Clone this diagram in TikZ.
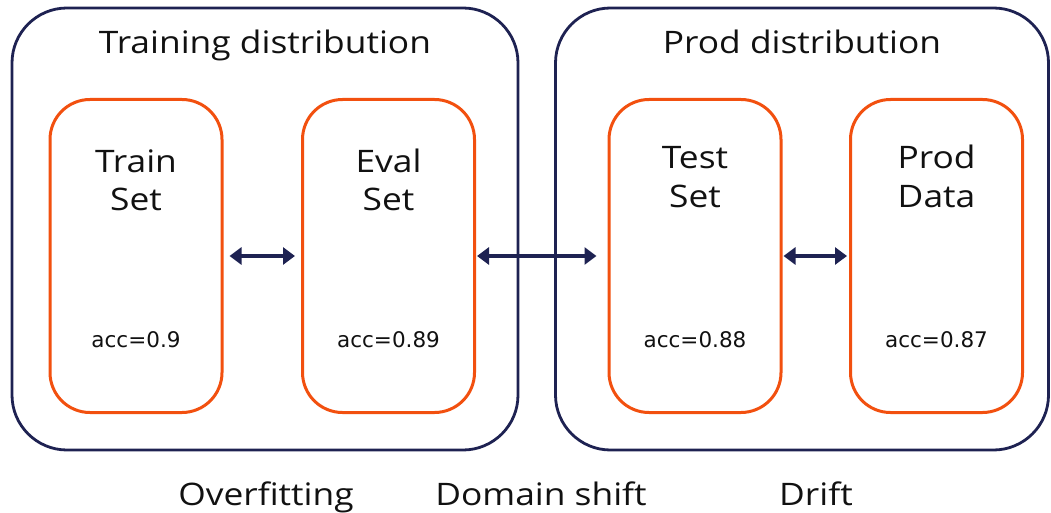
\documentclass[tikz,border=0pt]{standalone}
\usepackage{fontspec}
\setmainfont{Open Sans}[FakeStretch=1.14]
\newfontfamily\accfont{DejaVu Sans}
\usetikzlibrary{arrows.meta, positioning, calc}
\definecolor{dsNavy}{HTML}{1E2252}
\definecolor{dsOrange}{HTML}{F2500F}
\definecolor{dsInk}{HTML}{111111}
\tikzset{
  dsouter/.style={
    draw=dsNavy, line width=2.8pt, rounded corners=55pt,
    minimum height=442pt, inner sep=0pt,
  },
  dsinner/.style={
    draw=dsOrange, line width=3pt, rounded corners=40pt, fill=white,
    minimum width=172pt, minimum height=313pt, inner sep=0pt,
  },
  dstitle/.style={
    text=dsInk, font=\fontsize{31}{39}\selectfont, align=center,
    inner sep=0pt, anchor=base,
  },
  dsacc/.style={
    text=dsInk, font=\accfont\fontsize{21.5}{26}\selectfont,
    inner sep=0pt, anchor=base,
  },
  dslabel/.style={
    text=dsInk, font=\fontsize{31}{36}\selectfont, inner sep=0pt, anchor=base,
  },
  dsarrow/.style={
    {Triangle[length=12pt, width=17pt]}-{Triangle[length=12pt, width=17pt]},
    draw=dsNavy, line width=3.6pt,
  },
}
% the base anchor of a two-line name sits on its second line
\newcommand{\dsbox}[5]{%
  \node[dsinner] (#1) at (#2,256) {};%
  \node[dstitle] (#1-name) at ($(#1.north)+(0,#3)$) {#4};%
  \node[dsacc] (#1-acc) at ($(#1.south)+(0,67)$) {#5};%
}

\begin{document}
\begin{tikzpicture}[x=1pt, y=1pt]
\useasboundingbox (0,0) rectangle (1051,512);

% Distributions -----------------------------------------------------------
\node[dsouter, minimum width=506pt] (train-dist) at (265,283) {};
\node[dsouter, minimum width=493pt] (prod-dist) at (802,283) {};
\node[dstitle] (train-dist-title) at ($(train-dist.north)+(0,-47)$) {Training distribution};
\node[dstitle] (prod-dist-title) at ($(prod-dist.north)+(0,-47)$) {Prod distribution};

% Data sets ---------------------------------------------------------------
\dsbox{train}{136}{-113}{Train\\Set}{acc=0.9}
\dsbox{eval}{388.5}{-113}{Eval\\Set}{acc=0.89}
\dsbox{test}{695}{-109}{Test\\Set}{acc=0.88}
\dsbox{prod}{936.5}{-109}{Prod\\Data}{acc=0.87}

% Gaps --------------------------------------------------------------------
\draw[dsarrow, shorten <=6pt, shorten >=6pt] (train.east) -- (eval.west);
\draw[dsarrow, shorten <=1pt, shorten >=11pt] (eval.east) -- (test.west);
\draw[dsarrow, shorten <=1pt, shorten >=2pt] (test.east) -- (prod.west);

\node[dslabel] (overfit) at (266,7) {Overfitting};
\node[dslabel] (domain) at (541,7) {Domain shift};
\node[dslabel] (drift) at (816,7) {Drift};

\end{tikzpicture}
\end{document}
